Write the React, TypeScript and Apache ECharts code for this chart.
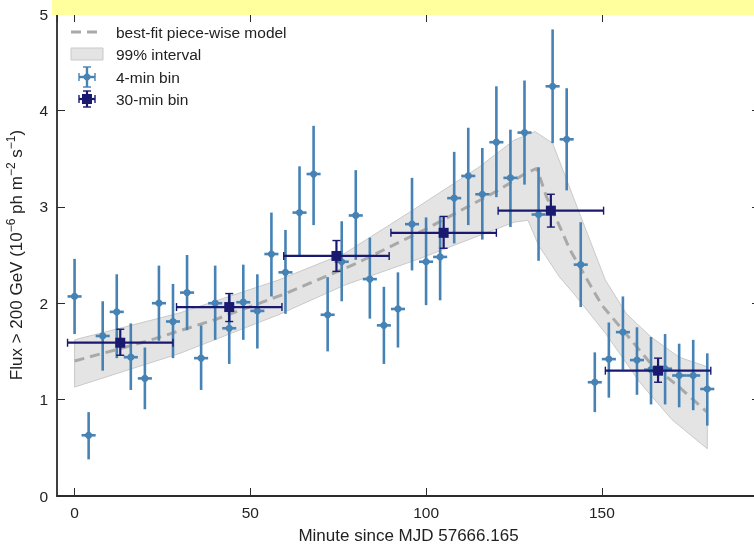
import React, { useEffect, useRef } from "react";
import * as echarts from "echarts";

const FONT = '"Liberation Sans", Arial, Helvetica, sans-serif';

// 4-min bins
const fourT = [0, 4, 8, 12, 16, 20, 24, 28, 32, 36, 40, 44, 48, 52, 56, 60, 64, 68, 72, 76, 80, 84, 88, 92, 96, 100, 104, 108, 112, 116, 120, 124, 128, 132, 136, 140, 144, 148, 152, 156, 160, 164, 168, 172, 176, 180];
const fourFlux = [2.07, 0.63, 1.66, 1.91, 1.44, 1.22, 2.0, 1.81, 2.11, 1.43, 2.0, 1.74, 2.01, 1.92, 2.51, 2.32, 2.94, 3.34, 1.88, 2.43, 2.91, 2.25, 1.77, 1.94, 2.82, 2.43, 2.48, 3.09, 3.32, 3.13, 3.67, 3.3, 3.77, 2.92, 4.25, 3.7, 2.4, 1.18, 1.42, 1.7, 1.41, 1.31, 1.32, 1.25, 1.25, 1.11];
const fourHi = [2.46, 0.87, 2.02, 2.3, 1.79, 1.54, 2.39, 2.2, 2.5, 1.77, 2.39, 2.09, 2.4, 2.3, 2.94, 2.76, 3.42, 3.84, 2.27, 2.85, 3.38, 2.68, 2.17, 2.32, 3.3, 2.89, 2.9, 3.57, 3.82, 3.61, 4.25, 3.8, 4.31, 3.41, 4.84, 4.23, 2.84, 1.49, 1.8, 2.07, 1.75, 1.65, 1.68, 1.58, 1.62, 1.48];
const fourLo = [1.68, 0.38, 1.3, 1.43, 1.1, 0.9, 1.61, 1.43, 1.72, 1.1, 1.62, 1.37, 1.62, 1.53, 2.07, 1.89, 2.48, 2.81, 1.5, 2.02, 2.45, 1.84, 1.37, 1.54, 2.34, 1.98, 2.03, 2.62, 2.81, 2.66, 3.1, 2.79, 3.23, 2.44, 3.66, 3.17, 1.96, 0.87, 1.02, 1.31, 1.05, 0.95, 0.95, 0.92, 0.89, 0.73];

// 30-min bins
const thirtyT = [13, 44, 74.5, 105, 135.5, 166];
const thirtyFlux = [1.59, 1.96, 2.49, 2.73, 2.96, 1.3];
const thirtyHi = [1.73, 2.1, 2.65, 2.9, 3.13, 1.43];
const thirtyLo = [1.46, 1.81, 2.33, 2.57, 2.79, 1.18];
const thirtyStart = [-2, 29, 59.5, 90, 120.5, 151];
const thirtyEnd = [28, 59, 89.5, 120, 150.5, 181];

// best-fit model
const modelT = [0, 20, 40, 60, 80, 100, 120, 128, 131.5, 134.3, 141, 150, 156, 164, 172, 180];
const modelFlux = [1.4, 1.6, 1.83, 2.1, 2.41, 2.77, 3.16, 3.34, 3.4, 3.1, 2.55, 1.98, 1.72, 1.37, 1.13, 0.87];

// 99% interval
const bandUpperT = [0, 30, 58, 77, 96, 115, 125, 131, 136, 140, 144, 151, 157, 164, 172, 180];
const bandUpper = [1.62, 1.9, 2.24, 2.52, 2.96, 3.41, 3.69, 3.78, 3.66, 3.28, 2.9, 2.24, 1.89, 1.65, 1.44, 1.34];
const bandLowerT = [0, 30, 58, 77, 98, 115, 125, 129, 132, 138, 142, 151, 161, 170, 180];
const bandLower = [1.13, 1.48, 1.88, 2.19, 2.46, 2.7, 2.84, 2.86, 2.6, 2.27, 2.1, 1.69, 1.17, 0.79, 0.49];

const legendLabels = ["best-fit piece-wise model", "99% interval", "4-min bin", "30-min bin"];

const BLUE = "#4682B4";
const NAVY = "#191970";
const AXIS = "#2b2b2b";
const TXT = "#222222";

export default function App() {
  const ref = useRef<HTMLDivElement>(null);

  useEffect(() => {
    document.body.style.margin = "0";
    const chart = echarts.init(ref.current!, null, { renderer: "svg" });

    const fourData = fourT.map((t, i) => [t, fourFlux[i], fourHi[i], fourLo[i]]);
    const thirtyData = thirtyT.map((t, i) => [t, thirtyFlux[i], thirtyHi[i], thirtyLo[i], thirtyStart[i], thirtyEnd[i]]);
    const modelData = modelT.map((t, i) => [t, modelFlux[i]]);

    const axisCommon = {
      type: "value" as const,
      axisLine: { show: true, onZero: false, lineStyle: { color: AXIS, width: 1.8 } },
      axisTick: { show: true, inside: true, length: 8, lineStyle: { color: AXIS, width: 1 } },
      splitLine: { show: false },
    };

    const lx = 71;
    const tx = 116;
    const rows = [32, 54, 77, 99];

    chart.setOption({
      animation: false,
      grid: { left: 57, top: 14, width: 703, height: 482, containLabel: false, outerBoundsMode: "none" },
      xAxis: [
        {
          ...axisCommon,
          position: "bottom",
          min: -5,
          max: 195,
          splitNumber: 4,
          axisLabel: { show: true, margin: 8, fontSize: 15.5, color: TXT, fontFamily: FONT, showMinLabel: false, showMaxLabel: false },
          name: "Minute since MJD 57666.165",
          nameLocation: "middle",
          nameGap: 31,
          nameTextStyle: { fontSize: 17, color: TXT, fontFamily: FONT },
        },
        {
          ...axisCommon,
          position: "top",
          min: -5,
          max: 195,
          splitNumber: 4,
          axisLabel: { show: false },
        },
      ],
      yAxis: [
        {
          ...axisCommon,
          position: "left",
          min: 0,
          max: 5,
          interval: 1,
          axisLabel: { show: true, margin: 9, fontSize: 15.5, color: TXT, fontFamily: FONT },
          name: "{a|Flux > 200 GeV (10}{s|−6}{a| ph m}{s|−2}{a| s}{s|−1}{a|)}",
          nameLocation: "middle",
          nameGap: 30,
          nameTextStyle: {
            color: TXT,
            fontFamily: FONT,
            rich: {
              a: { fontSize: 17, fontFamily: FONT, color: TXT, lineHeight: 22, verticalAlign: "middle" },
              s: { fontSize: 12, fontFamily: FONT, color: TXT, lineHeight: 12, verticalAlign: "top" },
            },
          },
        },
        {
          ...axisCommon,
          position: "right",
          min: 0,
          max: 5,
          interval: 1,
          axisLabel: { show: false },
        },
      ],
      series: [
        {
          type: "custom",
          name: "band",
          z: 1,
          data: [[0, 0]],
          renderItem: (params: any, api: any) => {
            const pts: number[][] = [];
            bandUpperT.forEach((t, i) => pts.push(api.coord([t, bandUpper[i]])));
            for (let i = bandLowerT.length - 1; i >= 0; i--) pts.push(api.coord([bandLowerT[i], bandLower[i]]));
            return {
              type: "polygon",
              shape: { points: pts },
              style: { fill: "#e4e4e4", stroke: "#c9c9c9", lineWidth: 1 },
            };
          },
        },
        {
          type: "line",
          name: "model",
          z: 2,
          data: modelData,
          showSymbol: false,
          symbol: "none",
          lineStyle: { color: "#a9a9a9", width: 3, type: [10, 6] },
        },
        {
          type: "custom",
          name: "4-min bin",
          z: 3,
          data: fourData,
          encode: { x: 0, y: 1 },
          renderItem: (params: any, api: any) => {
            const t = api.value(0);
            const f = api.value(1);
            const c = api.coord([t, f]);
            const top = api.coord([t, api.value(2)]);
            const bot = api.coord([t, api.value(3)]);
            const l = api.coord([t - 2, f]);
            const r = api.coord([t + 2, f]);
            return {
              type: "group",
              children: [
                { type: "line", shape: { x1: c[0], y1: top[1], x2: c[0], y2: bot[1] }, style: { stroke: BLUE, lineWidth: 2.6 } },
                { type: "line", shape: { x1: l[0], y1: c[1], x2: r[0], y2: c[1] }, style: { stroke: BLUE, lineWidth: 2.6 } },
                { type: "circle", shape: { cx: c[0], cy: c[1], r: 3.6 }, style: { fill: BLUE } },
              ],
            };
          },
        },
        {
          type: "custom",
          name: "30-min bin",
          z: 4,
          data: thirtyData,
          encode: { x: 0, y: 1 },
          renderItem: (params: any, api: any) => {
            const t = api.value(0);
            const f = api.value(1);
            const c = api.coord([t, f]);
            const top = api.coord([t, api.value(2)]);
            const bot = api.coord([t, api.value(3)]);
            const l = api.coord([api.value(4), f]);
            const r = api.coord([api.value(5), f]);
            const st = { stroke: NAVY, lineWidth: 2.2 };
            const cap = 4;
            return {
              type: "group",
              children: [
                { type: "line", shape: { x1: l[0], y1: c[1], x2: r[0], y2: c[1] }, style: st },
                { type: "line", shape: { x1: l[0], y1: c[1] - cap, x2: l[0], y2: c[1] + cap }, style: { stroke: NAVY, lineWidth: 1.4 } },
                { type: "line", shape: { x1: r[0], y1: c[1] - cap, x2: r[0], y2: c[1] + cap }, style: { stroke: NAVY, lineWidth: 1.4 } },
                { type: "line", shape: { x1: c[0], y1: top[1], x2: c[0], y2: bot[1] }, style: st },
                { type: "line", shape: { x1: c[0] - cap, y1: top[1], x2: c[0] + cap, y2: top[1] }, style: { stroke: NAVY, lineWidth: 1.4 } },
                { type: "line", shape: { x1: c[0] - cap, y1: bot[1], x2: c[0] + cap, y2: bot[1] }, style: { stroke: NAVY, lineWidth: 1.4 } },
                { type: "rect", shape: { x: c[0] - 5, y: c[1] - 5, width: 10, height: 10 }, style: { fill: NAVY } },
              ],
            };
          },
        },
      ],
      graphic: [
        { type: "line", z: 50, shape: { x1: lx, y1: rows[0], x2: lx + 29, y2: rows[0] }, style: { stroke: "#a9a9a9", lineWidth: 3, lineDash: [10, 6] } },
        { type: "rect", z: 50, shape: { x: lx, y: rows[1] - 6, width: 32, height: 12 }, style: { fill: "#e4e4e4", stroke: "#c9c9c9", lineWidth: 1 } },
        {
          type: "group",
          z: 50,
          children: [
            { type: "line", shape: { x1: 79, y1: rows[2], x2: 95, y2: rows[2] }, style: { stroke: BLUE, lineWidth: 2.4 } },
            { type: "line", shape: { x1: 79, y1: rows[2] - 4, x2: 79, y2: rows[2] + 4 }, style: { stroke: BLUE, lineWidth: 1.4 } },
            { type: "line", shape: { x1: 95, y1: rows[2] - 4, x2: 95, y2: rows[2] + 4 }, style: { stroke: BLUE, lineWidth: 1.4 } },
            { type: "line", shape: { x1: 87, y1: rows[2] - 10, x2: 87, y2: rows[2] + 10 }, style: { stroke: BLUE, lineWidth: 2.4 } },
            { type: "line", shape: { x1: 83, y1: rows[2] - 10, x2: 91, y2: rows[2] - 10 }, style: { stroke: BLUE, lineWidth: 1.4 } },
            { type: "line", shape: { x1: 83, y1: rows[2] + 10, x2: 91, y2: rows[2] + 10 }, style: { stroke: BLUE, lineWidth: 1.4 } },
            { type: "circle", shape: { cx: 87, cy: rows[2], r: 3.6 }, style: { fill: BLUE } },
          ],
        },
        {
          type: "group",
          z: 50,
          children: [
            { type: "line", shape: { x1: 79, y1: rows[3], x2: 95, y2: rows[3] }, style: { stroke: NAVY, lineWidth: 2.2 } },
            { type: "line", shape: { x1: 79, y1: rows[3] - 4, x2: 79, y2: rows[3] + 4 }, style: { stroke: NAVY, lineWidth: 1.4 } },
            { type: "line", shape: { x1: 95, y1: rows[3] - 4, x2: 95, y2: rows[3] + 4 }, style: { stroke: NAVY, lineWidth: 1.4 } },
            { type: "line", shape: { x1: 87, y1: rows[3] - 8, x2: 87, y2: rows[3] + 8 }, style: { stroke: NAVY, lineWidth: 2.2 } },
            { type: "line", shape: { x1: 83, y1: rows[3] - 8, x2: 91, y2: rows[3] - 8 }, style: { stroke: NAVY, lineWidth: 1.4 } },
            { type: "line", shape: { x1: 83, y1: rows[3] + 8, x2: 91, y2: rows[3] + 8 }, style: { stroke: NAVY, lineWidth: 1.4 } },
            { type: "rect", shape: { x: 82, y: rows[3] - 5, width: 10, height: 10 }, style: { fill: NAVY } },
          ],
        },
        ...legendLabels.map((s, i) => ({
          type: "text",
          z: 50,
          x: tx,
          y: rows[i],
          style: { text: s, fill: TXT, fontSize: 15.5, fontFamily: FONT, textVerticalAlign: "middle", verticalAlign: "middle" },
        })),
        { type: "rect", z: 100, shape: { x: 52, y: 0, width: 702, height: 15 }, style: { fill: "#ffff9e" } },
      ],
    });

    return () => chart.dispose();
  }, []);

  return <div ref={ref} style={{ position: "fixed", left: 0, top: 0, width: 754, height: 546 }} />;
}
